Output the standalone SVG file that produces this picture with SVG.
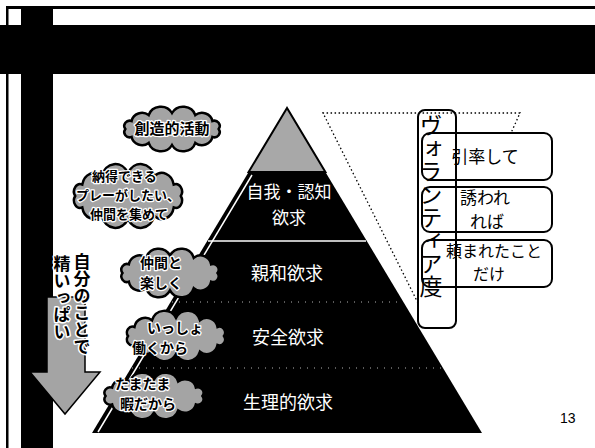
<svg xmlns="http://www.w3.org/2000/svg" xmlns:xlink="http://www.w3.org/1999/xlink" width="595" height="448" viewBox="0 0 595 448">
<style>
.jp{font-family:'Noto Sans CJK JP','Noto Sans',sans-serif}
.lvl{fill:#ffffff;font-size:17px;text-anchor:middle}
.box{fill:#ffffff;stroke:#000;stroke-width:2}
.btxt{fill:#000;font-size:17px;text-anchor:middle}
.ctxt{fill:#000;font-size:14px;font-weight:bold;stroke:#fff;stroke-width:2.5;paint-order:stroke;stroke-linejoin:round}
.vtxt{writing-mode:vertical-rl}
.dot{fill:none;stroke:#000;stroke-width:1.3;stroke-dasharray:1.5 2.5}
</style>
<defs>
<path id="cloud" d="M44,0 A5.2,5.2 0 0 1 38.1,8 A10,10 0 0 1 22,13.9 A12,12 0 0 1 0,16 A12,12 0 0 1 -22,13.9 A10,10 0 0 1 -38.1,8 A5.2,5.2 0 0 1 -44,0 A5.2,5.2 0 0 1 -38.1,-8 A10,10 0 0 1 -22,-13.9 A12,12 0 0 1 0,-16 A12,12 0 0 1 22,-13.9 A10,10 0 0 1 38.1,-8 A5.2,5.2 0 0 1 44,0 Z" fill="#a4a4a4" stroke="#000" stroke-width="2.5" vector-effect="non-scaling-stroke"/>
</defs>
<rect width="595" height="448" fill="#fff"/>
<g id="frame">
<rect x="6" y="6" width="589" height="3" fill="#000"/>
<rect x="6" y="6" width="2.5" height="442" fill="#000"/>
<rect x="0" y="25" width="595" height="49" fill="#000"/>
<rect x="21" y="6" width="32" height="442" fill="#000"/>
</g>
<g id="pyramid">
<polygon points="287,108 92,433 482,433" fill="#000"/>
<polygon points="287,108 248.6,172 325.4,172" fill="#a8a8a8" stroke="#000" stroke-width="2"/>
<line x1="252" y1="175" x2="98" y2="432" stroke="#fff" stroke-width="1.5"/>
<line x1="208" y1="241" x2="366" y2="241" stroke="#fff" stroke-width="1.5"/>
<line x1="172" y1="302" x2="402" y2="302" stroke="#fff" stroke-width="1" stroke-dasharray="1 6" opacity="0.7"/>
<line x1="132" y1="368" x2="442" y2="368" stroke="#fff" stroke-width="1" stroke-dasharray="1 6" opacity="0.7"/>
</g>
<g id="level-esteem"><text class="jp lvl"><tspan x="289" y="198">自我・認知</tspan><tspan x="289" y="224">欲求</tspan></text></g>
<g id="level-love"><text class="jp lvl" x="287" y="280" style="font-size:18px">親和欲求</text></g>
<g id="level-safety"><text class="jp lvl" x="288" y="344" style="font-size:18px">安全欲求</text></g>
<g id="level-physio"><text class="jp lvl" x="288" y="409" style="font-size:18px">生理的欲求</text></g>
<g id="connectors">
<polyline class="dot" points="418,303 323,113 520,113 511,133"/>
</g>
<g id="box-lead"><rect class="box" x="422" y="133" width="130" height="47" rx="8"/><text class="jp btxt" x="485" y="163">引率して</text></g>
<g id="box-invited"><rect class="box" x="422" y="187" width="130" height="45" rx="8"/><text class="jp btxt"><tspan x="485" y="204">誘われ</tspan><tspan x="487" y="228">れば</tspan></text></g>
<g id="box-asked"><rect class="box" x="422" y="240" width="130" height="47" rx="8"/><text class="jp btxt" style="font-size:16px"><tspan x="494" y="257">頼まれたこと</tspan><tspan x="489" y="280">だけ</tspan></text></g>
<g id="volunteer-degree"><rect x="418" y="110" width="38" height="218" rx="7" fill="none" stroke="#000" stroke-width="2"/><text class="jp vtxt" x="431" y="114" style="font-size:23px">ヴォランティア度</text></g>
<g id="cloud-creative"><use xlink:href="#cloud" transform="translate(172,129) scale(1.06,1.0)"/><text class="jp ctxt" x="172" y="134" text-anchor="middle" style="font-size:15px">創造的活動</text></g>
<g id="cloud-esteem"><use xlink:href="#cloud" transform="translate(128,196) scale(1.2,1.43)"/><text class="jp ctxt" style="font-size:13px"><tspan x="92" y="181">納得できる</tspan><tspan x="76" y="200">プレーがしたい、</tspan><tspan x="90" y="219">仲間を集めて</tspan></text></g>
<g id="cloud-love"><use xlink:href="#cloud" transform="translate(170,273) scale(1.08,1.09)"/><text class="jp ctxt"><tspan x="140" y="268">仲間と</tspan><tspan x="140" y="288">楽しく</tspan></text></g>
<g id="cloud-safety"><use xlink:href="#cloud" transform="translate(176,336) scale(1.09,1.13)"/><text class="jp ctxt"><tspan x="147" y="333">いっしょ</tspan><tspan x="132" y="353">働くから</tspan></text></g>
<g id="cloud-physio"><use xlink:href="#cloud" transform="translate(154,396) scale(1.1,1.04)"/><text class="jp ctxt"><tspan x="115" y="389">たまたま</tspan><tspan x="120" y="409">暇だから</tspan></text></g>
<g id="arrow-self"><polygon points="47,297 85,297 85,372 100,372 65,414 30,372 47,372" fill="#a4a4a4" stroke="#000" stroke-width="1.5"/>
<text class="jp vtxt ctxt" x="82" y="253" style="font-size:17px;stroke-width:3">自分のことで</text>
<text class="jp vtxt ctxt" x="62" y="255" style="font-size:17px;stroke-width:3">精いっぱい</text></g>
<g id="page-number"><text x="560" y="423" font-family="'Liberation Sans',Arial,sans-serif" font-size="14" fill="#000">13</text></g>
</svg>
